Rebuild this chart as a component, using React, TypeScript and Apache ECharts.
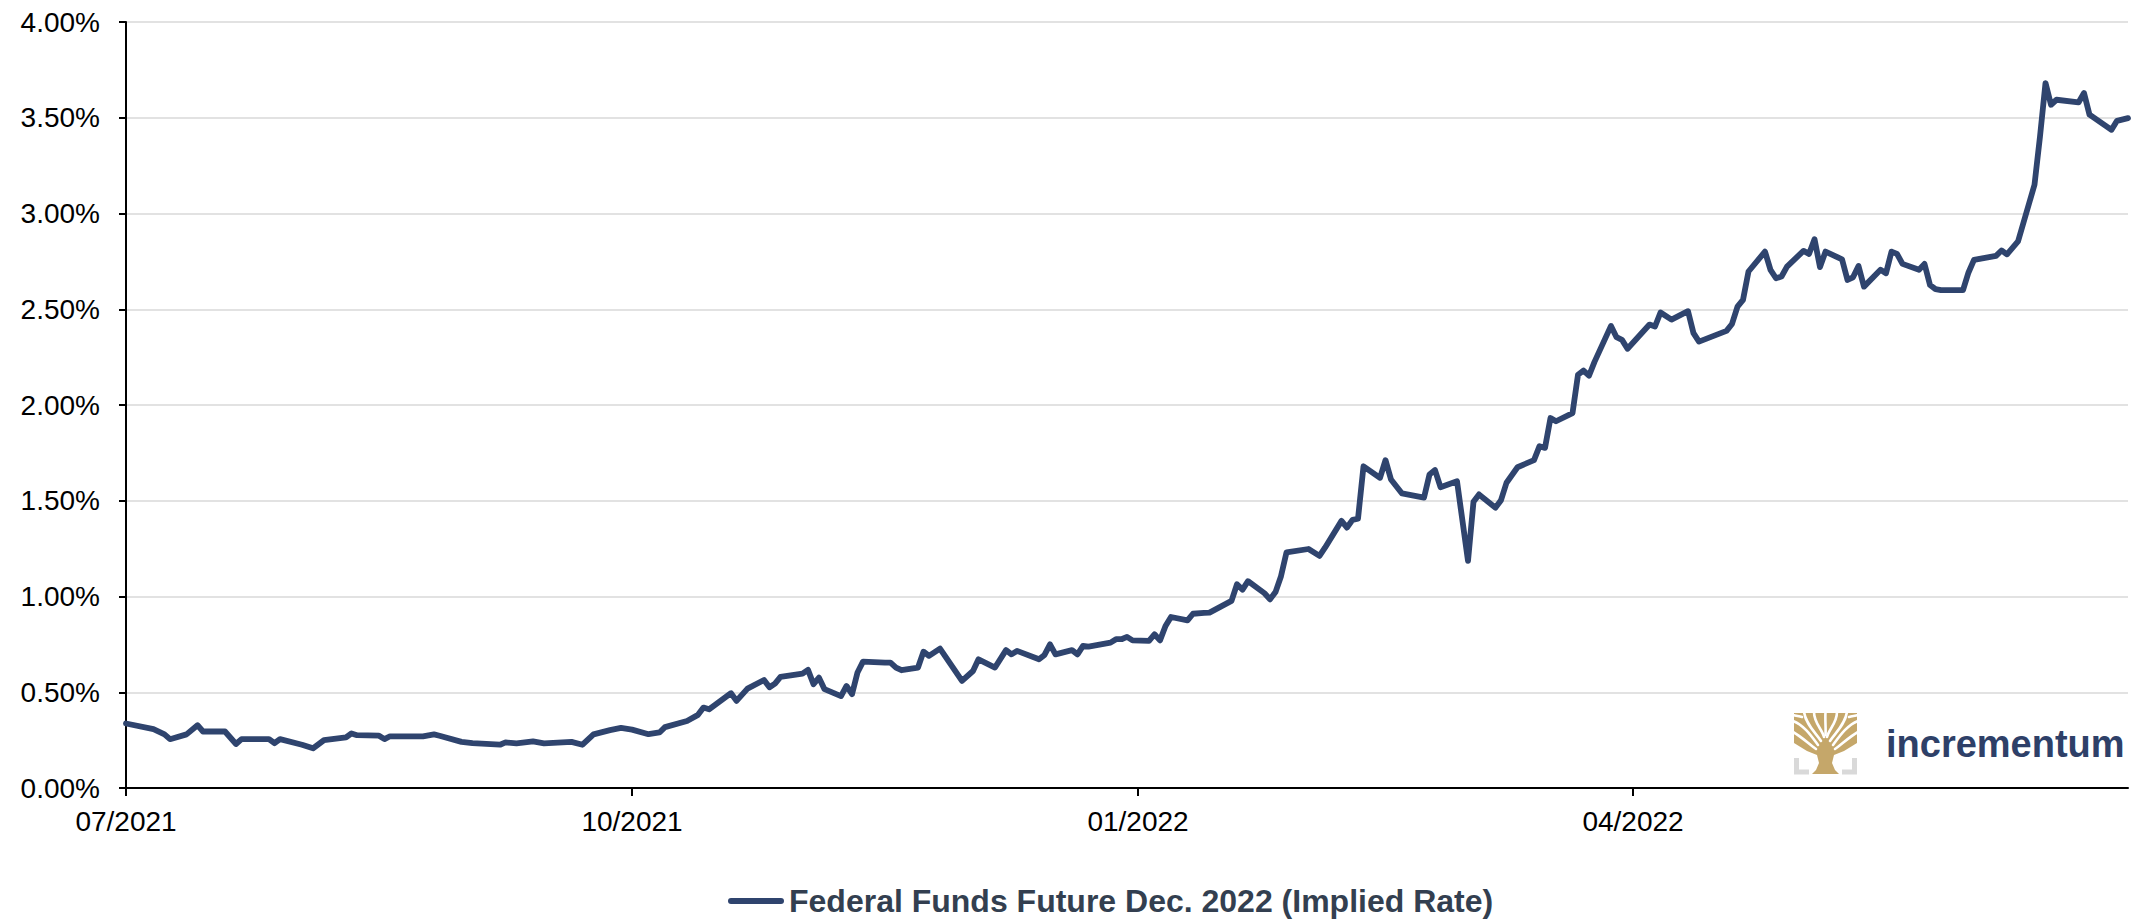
import React, { useEffect, useRef } from "react";
import * as echarts from "echarts";

const seriesName = "Federal Funds Future Dec. 2022 (Implied Rate)";

const dates: string[] = [
  "2021-07-01", "2021-07-06", "2021-07-08", "2021-07-09", "2021-07-12", "2021-07-14", "2021-07-15",
  "2021-07-19", "2021-07-21", "2021-07-22", "2021-07-27", "2021-07-28", "2021-07-29", "2021-08-02",
  "2021-08-04", "2021-08-06", "2021-08-10", "2021-08-11", "2021-08-12", "2021-08-16", "2021-08-17",
  "2021-08-18", "2021-08-24", "2021-08-26", "2021-08-27", "2021-08-31", "2021-09-02", "2021-09-07",
  "2021-09-08", "2021-09-10", "2021-09-13", "2021-09-15", "2021-09-20", "2021-09-22", "2021-09-24",
  "2021-09-27", "2021-09-29", "2021-10-01", "2021-10-04", "2021-10-06", "2021-10-07", "2021-10-11",
  "2021-10-13", "2021-10-14", "2021-10-15", "2021-10-19", "2021-10-20", "2021-10-22", "2021-10-25",
  "2021-10-26", "2021-10-27", "2021-10-28", "2021-11-01", "2021-11-02", "2021-11-03", "2021-11-04",
  "2021-11-05", "2021-11-08", "2021-11-09", "2021-11-10", "2021-11-11", "2021-11-12", "2021-11-16",
  "2021-11-17", "2021-11-18", "2021-11-19", "2021-11-22", "2021-11-23", "2021-11-24", "2021-11-26",
  "2021-11-30", "2021-12-02", "2021-12-03", "2021-12-06", "2021-12-08", "2021-12-09", "2021-12-10",
  "2021-12-14", "2021-12-15", "2021-12-16", "2021-12-17", "2021-12-20", "2021-12-21", "2021-12-22",
  "2021-12-23", "2021-12-27", "2021-12-28", "2021-12-29", "2021-12-30", "2021-12-31", "2022-01-03",
  "2022-01-04", "2022-01-05", "2022-01-06", "2022-01-07", "2022-01-10", "2022-01-11", "2022-01-13",
  "2022-01-14", "2022-01-18", "2022-01-19", "2022-01-20", "2022-01-21", "2022-01-24", "2022-01-25",
  "2022-01-26", "2022-01-27", "2022-01-28", "2022-02-01", "2022-02-03", "2022-02-04", "2022-02-07",
  "2022-02-08", "2022-02-09", "2022-02-10", "2022-02-11", "2022-02-14", "2022-02-15", "2022-02-16",
  "2022-02-18", "2022-02-22", "2022-02-23", "2022-02-24", "2022-02-25", "2022-02-28", "2022-03-02",
  "2022-03-03", "2022-03-04", "2022-03-07", "2022-03-08", "2022-03-09", "2022-03-11", "2022-03-14",
  "2022-03-15", "2022-03-16", "2022-03-17", "2022-03-18", "2022-03-21", "2022-03-22", "2022-03-23",
  "2022-03-24", "2022-03-25", "2022-03-28", "2022-03-29", "2022-03-30", "2022-03-31", "2022-04-04",
  "2022-04-05", "2022-04-06", "2022-04-08", "2022-04-11", "2022-04-12", "2022-04-13", "2022-04-18",
  "2022-04-19", "2022-04-20", "2022-04-21", "2022-04-22", "2022-04-25", "2022-04-26", "2022-04-27",
  "2022-04-28", "2022-04-29", "2022-05-02", "2022-05-03", "2022-05-04", "2022-05-05", "2022-05-06",
  "2022-05-09", "2022-05-10", "2022-05-11", "2022-05-12", "2022-05-13", "2022-05-16", "2022-05-17",
  "2022-05-18", "2022-05-19", "2022-05-20", "2022-05-23", "2022-05-24", "2022-05-25", "2022-05-26",
  "2022-05-27", "2022-05-31", "2022-06-01", "2022-06-02", "2022-06-06", "2022-06-07", "2022-06-08",
  "2022-06-10", "2022-06-13", "2022-06-14", "2022-06-15", "2022-06-16", "2022-06-17", "2022-06-21",
  "2022-06-22", "2022-06-23", "2022-06-27", "2022-06-28", "2022-06-30",
];

const rates: number[] = [
  0.337, 0.307, 0.28, 0.255, 0.28, 0.328, 0.295,
  0.295, 0.23, 0.255, 0.255, 0.234, 0.255, 0.226,
  0.207, 0.25, 0.264, 0.285, 0.276, 0.273, 0.255,
  0.27, 0.27, 0.28, 0.273, 0.241, 0.234, 0.226,
  0.238, 0.233, 0.243, 0.233, 0.241, 0.226, 0.28,
  0.302, 0.314, 0.305, 0.281, 0.29, 0.318, 0.35,
  0.382, 0.42, 0.411, 0.495, 0.455, 0.519, 0.564,
  0.526, 0.545, 0.58, 0.597, 0.617, 0.542, 0.576,
  0.516, 0.48, 0.533, 0.49, 0.603, 0.66, 0.655,
  0.655, 0.629, 0.615, 0.629, 0.712, 0.69, 0.728,
  0.559, 0.611, 0.672, 0.629, 0.72, 0.698, 0.716,
  0.672, 0.695, 0.75, 0.698, 0.72, 0.698, 0.742,
  0.738, 0.759, 0.777, 0.777, 0.789, 0.771, 0.768,
  0.803, 0.771, 0.846, 0.893, 0.875, 0.91, 0.914,
  0.916, 0.977, 1.064, 1.036, 1.08, 1.017, 0.985,
  1.023, 1.106, 1.23, 1.248, 1.212, 1.255, 1.395,
  1.36, 1.4, 1.406, 1.68, 1.62, 1.712, 1.611,
  1.538, 1.516, 1.637, 1.66, 1.571, 1.602, 1.186,
  1.495, 1.533, 1.464, 1.503, 1.594, 1.675, 1.712,
  1.785, 1.776, 1.932, 1.915, 1.958, 2.158, 2.18,
  2.153, 2.225, 2.413, 2.354, 2.34, 2.294, 2.42,
  2.41, 2.483, 2.446, 2.49, 2.375, 2.331, 2.387,
  2.423, 2.514, 2.549, 2.697, 2.801, 2.706, 2.662,
  2.671, 2.723, 2.805, 2.789, 2.866, 2.72, 2.801,
  2.761, 2.653, 2.667, 2.726, 2.618, 2.706, 2.688,
  2.801, 2.789, 2.737, 2.706, 2.737, 2.627, 2.605,
  2.6, 2.6, 2.692, 2.758, 2.779, 2.807, 2.787,
  2.854, 3.15, 3.402, 3.681, 3.568, 3.594, 3.58,
  3.629, 3.516, 3.437, 3.484, 3.498,
];

const xMin = "2021-07-01";
const xMax = "2022-06-30";
const quarterTicks: string[] = ["2021-07-01", "2021-10-01", "2022-01-01", "2022-04-01"];

const yMin = 0;
const yMax = 4;
const yStep = 0.5;

const NAVY = "#2f446e";
const GOLD = "#c5a76a";

function toTs(s: string): number {
  const [y, m, d] = s.split("-").map(Number);
  return Date.UTC(y, m - 1, d);
}

export default function App() {
  const ref = useRef<HTMLDivElement>(null);

  useEffect(() => {
    if (!ref.current) return;
    const chart = echarts.init(ref.current, undefined, { renderer: "svg" });

    const data = dates.map((d, i) => [toTs(d), rates[i]]);
    const tickTs = quarterTicks.map(toTs);

    // white gaps carved into a gold crown, like the tree logo
    const gap = (x1: number, y1: number, x2: number, y2: number, c1x: number, c1y: number, c2x: number, c2y: number) => ({
      type: "bezierCurve",
      shape: { x1, y1, x2, y2, cpx1: c1x, cpy1: c1y, cpx2: c2x, cpy2: c2y },
      style: { stroke: "#ffffff", lineWidth: 2.6, fill: "none", lineCap: "round" },
      silent: true,
    });

    const option: any = {
      animation: false,
      backgroundColor: "#ffffff",
      grid: { left: 126, top: 22, right: 3, bottom: 131, containLabel: false },
      legend: {
        left: 728,
        top: 885,
        padding: 0,
        itemWidth: 56,
        itemHeight: 6,
        icon: "path://M3,0L53,0A3,3,0,0,1,53,6L3,6A3,3,0,0,1,3,0Z",
        textStyle: {
          fontFamily: "Liberation Sans, Arial, sans-serif",
          fontSize: 32,
          fontWeight: "bold",
          color: "#333f50",
        },
        data: [seriesName],
      },
      xAxis: {
        type: "value",
        min: toTs(xMin),
        max: toTs(xMax),
        axisLine: { show: true, lineStyle: { color: "#000000", width: 2 } },
        axisTick: {
          show: true,
          length: 8,
          customValues: tickTs,
          lineStyle: { color: "#000000", width: 2 },
        },
        axisLabel: {
          customValues: tickTs,
          margin: 19,
          color: "#000000",
          fontFamily: "Liberation Sans, Arial, sans-serif",
          fontSize: 28,
          showMinLabel: true,
          formatter: (v: number) => {
            const d = new Date(v);
            return String(d.getUTCMonth() + 1).padStart(2, "0") + "/" + d.getUTCFullYear();
          },
        },
        splitLine: { show: false },
      },
      yAxis: {
        type: "value",
        min: yMin,
        max: yMax,
        interval: yStep,
        axisLine: { show: true, lineStyle: { color: "#000000", width: 2 } },
        axisTick: { show: true, length: 7, lineStyle: { color: "#000000", width: 2 } },
        axisLabel: {
          margin: 26,
          color: "#000000",
          fontFamily: "Liberation Sans, Arial, sans-serif",
          fontSize: 28,
          formatter: (v: number) => v.toFixed(2) + "%",
        },
        splitLine: { show: true, lineStyle: { color: "#d9d9d9", width: 1.5 } },
      },
      series: [
        {
          name: seriesName,
          type: "line",
          data,
          showSymbol: false,
          symbol: "none",
          lineStyle: { color: NAVY, width: 5.8, cap: "round", join: "round" },
          itemStyle: { color: NAVY },
          z: 3,
        },
      ],
      graphic: [
        {
          type: "group",
          x: 1794,
          y: 713,
          silent: true,
          children: [
            {
              type: "polyline",
              shape: { points: [[2.5, 45], [2.5, 59], [15, 59]] },
              style: { stroke: "#d9d9d9", lineWidth: 5, fill: "none" },
            },
            {
              type: "polyline",
              shape: { points: [[60.5, 45], [60.5, 59], [48, 59]] },
              style: { stroke: "#d9d9d9", lineWidth: 5, fill: "none" },
            },
            {
              type: "polygon",
              shape: {
                points: [
                  [0, 0], [63, 0], [63, 30], [50, 38], [40, 42], [38, 50], [41, 57], [45, 61],
                  [18, 61], [22, 57], [25, 50], [23, 42], [13, 38], [0, 30],
                ],
              },
              style: { fill: GOLD },
            },
            gap(10, -1, 27, 28, 12, 12, 22, 20),
            gap(20, -1, 30, 24, 20, 10, 28, 16),
            gap(31.5, -1, 31.5, 22, 31, 8, 32, 16),
            gap(43, -1, 33, 24, 43, 10, 35, 16),
            gap(53, -1, 36, 28, 51, 12, 41, 20),
            gap(-1, 8, 24, 32, 10, 12, 18, 24),
            gap(-1, 19, 22, 36, 8, 24, 16, 32),
            gap(64, 8, 39, 32, 53, 12, 45, 24),
            gap(64, 19, 41, 36, 55, 24, 47, 32),
            gap(-1, 2, 8, 4, 2, 3, 5, 3),
            gap(64, 2, 55, 4, 61, 3, 58, 3),
          ],
        },
        {
          type: "text",
          x: 1886,
          y: 744,
          silent: true,
          style: {
            text: "incrementum",
            fill: "#2e4068",
            font: "bold 38px Liberation Sans, Arial, sans-serif",
            verticalAlign: "middle",
            align: "left",
          },
        },
      ],
    };

    chart.setOption(option);
    return () => chart.dispose();
  }, []);

  return (
    <div
      ref={ref}
      style={{ position: "absolute", left: 0, top: 0, width: 2131, height: 919, background: "#fff" }}
    />
  );
}
